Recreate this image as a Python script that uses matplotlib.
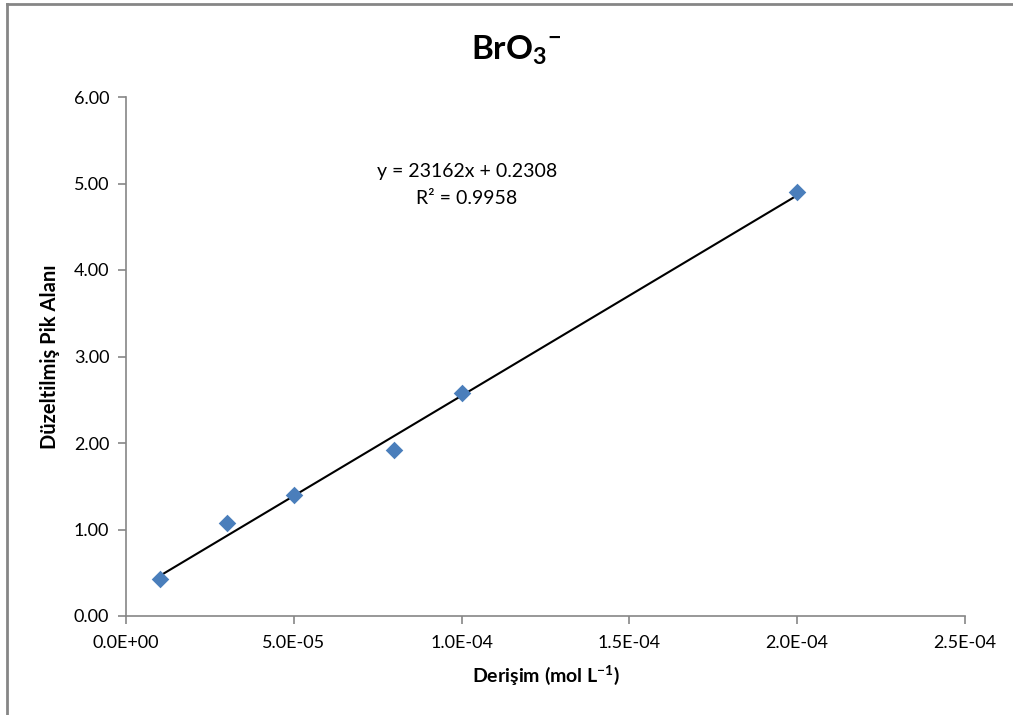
import numpy as np
import matplotlib
matplotlib.use('Agg')
import matplotlib.pyplot as plt
from matplotlib.lines import Line2D

# concentration (mol/L) and corrected peak area
conc = [1.0e-5, 3.0e-5, 5.0e-5, 8.0e-5, 1.0e-4, 2.0e-4]
area = [0.43, 1.07, 1.40, 1.92, 2.58, 4.90]

# trendline as printed on the chart
slope = 23162
intercept = 0.2308
r2 = 0.9958

x_ticks = [0, 5e-5, 1e-4, 1.5e-4, 2e-4, 2.5e-4]
x_labels = ['0.0E+00', '5.0E-05', '1.0E-04', '1.5E-04', '2.0E-04', '2.5E-04']
y_ticks = [0, 1, 2, 3, 4, 5, 6]

plt.rcParams['font.family'] = ['Lato', 'DejaVu Sans']
plt.rcParams['mathtext.fontset'] = 'custom'
plt.rcParams['mathtext.rm'] = 'Lato'
plt.rcParams['mathtext.bf'] = 'Lato:bold'
plt.rcParams['axes.unicode_minus'] = False
axis_grey = '#868686'

fig = plt.figure(figsize=(10.13, 7.15), dpi=100)
ax = fig.add_axes([126/1013, 1-616/715, (965-126)/1013, (616-97)/715])

ax.scatter(conc, area, marker='D', s=80, color='#4A7EBB', zorder=3, linewidths=0)

xs = np.array([min(conc), max(conc)])
ax.plot(xs, slope*xs + intercept, color='black', lw=1.5, zorder=2)

ax.set_xlim(0, 2.5e-4)
ax.set_ylim(0, 6)
ax.set_xticks(x_ticks)
ax.set_xticklabels(x_labels)
ax.set_yticks(y_ticks)
ax.set_yticklabels(['%.2f' % v for v in y_ticks])

for s in ['top', 'right']:
    ax.spines[s].set_visible(False)
for s in ['left', 'bottom']:
    ax.spines[s].set_color(axis_grey)
    ax.spines[s].set_linewidth(1.2)
ax.tick_params(axis='both', direction='out', length=6, width=1.2, color=axis_grey,
               labelsize=13, labelcolor='black')
ax.tick_params(axis='x', pad=8)
ax.tick_params(axis='y', pad=6)

ax.set_xlabel(r'Derişim (mol L$^\mathbf{-1}$)', fontsize=14, fontweight='bold', labelpad=8)
ax.set_ylabel('Düzeltilmiş Pik Alanı', fontsize=14.5, fontweight='bold', labelpad=10)

fig.text(516/1013, 1-50/715, r'BrO$_\mathbf{3}$$^\mathbf{-}$', fontsize=24, fontweight='bold',
         ha='center', va='center')

fig.text(467/1013, 1-172/715, 'y = %dx + %.4f' % (slope, intercept), fontsize=14,
         ha='center', va='center')
fig.text(467/1013, 1-198/715, 'R² = %.4f' % r2, fontsize=14, ha='center', va='center')

# chart border (left and top edges visible in the screenshot)
fig.add_artist(Line2D([7/1013, 7/1013], [0, 1-4/715], color=axis_grey, lw=2, transform=fig.transFigure))
fig.add_artist(Line2D([7/1013, 1], [1-4/715, 1-4/715], color=axis_grey, lw=2, transform=fig.transFigure))

fig.savefig('out.png', dpi=100)
